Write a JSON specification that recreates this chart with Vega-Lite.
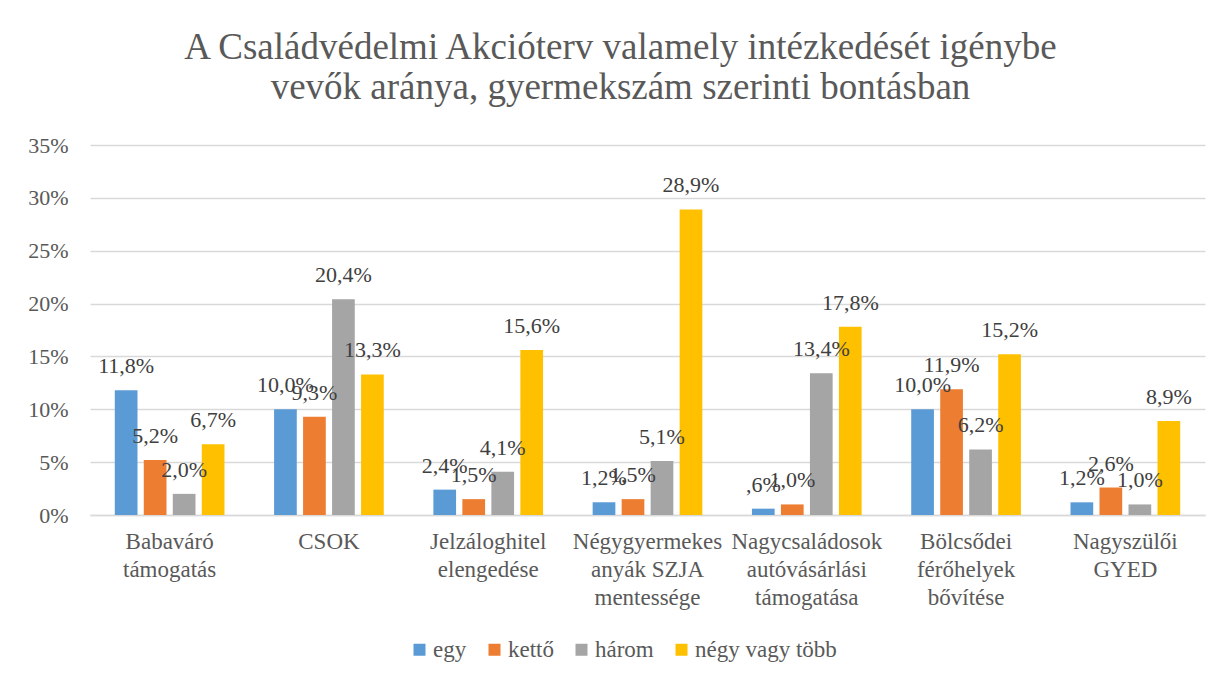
{
  "$schema": "https://vega.github.io/schema/vega-lite/v6.json",
  "width": 1115,
  "height": 370,
  "autosize": {"type": "none"},
  "padding": {"left": 90, "top": 145, "right": 26, "bottom": 166},
  "background": "white",
  "title": {
    "text": ["A Családvédelmi Akcióterv valamely intézkedését igénybe", "vevők aránya, gyermekszám szerinti bontásban"],
    "font": "Liberation Serif",
    "fontSize": 37,
    "fontWeight": "normal",
    "color": "#595959",
    "lineHeight": 40,
    "anchor": "middle",
    "frame": "group",
    "dx": -27,
    "offset": 27
  },
  "data": {
    "values": [
      {"kategoria": "Babaváró támogatás", "gyermekszam": "egy", "ertek": 11.8},
      {"kategoria": "Babaváró támogatás", "gyermekszam": "kettő", "ertek": 5.2},
      {"kategoria": "Babaváró támogatás", "gyermekszam": "három", "ertek": 2.0},
      {"kategoria": "Babaváró támogatás", "gyermekszam": "négy vagy több", "ertek": 6.7},
      {"kategoria": "CSOK", "gyermekszam": "egy", "ertek": 10.0},
      {"kategoria": "CSOK", "gyermekszam": "kettő", "ertek": 9.3},
      {"kategoria": "CSOK", "gyermekszam": "három", "ertek": 20.4},
      {"kategoria": "CSOK", "gyermekszam": "négy vagy több", "ertek": 13.3},
      {"kategoria": "Jelzáloghitel elengedése", "gyermekszam": "egy", "ertek": 2.4},
      {"kategoria": "Jelzáloghitel elengedése", "gyermekszam": "kettő", "ertek": 1.5},
      {"kategoria": "Jelzáloghitel elengedése", "gyermekszam": "három", "ertek": 4.1},
      {"kategoria": "Jelzáloghitel elengedése", "gyermekszam": "négy vagy több", "ertek": 15.6},
      {"kategoria": "Négygyermekes anyák SZJA mentessége", "gyermekszam": "egy", "ertek": 1.2},
      {"kategoria": "Négygyermekes anyák SZJA mentessége", "gyermekszam": "kettő", "ertek": 1.5},
      {"kategoria": "Négygyermekes anyák SZJA mentessége", "gyermekszam": "három", "ertek": 5.1},
      {"kategoria": "Négygyermekes anyák SZJA mentessége", "gyermekszam": "négy vagy több", "ertek": 28.9},
      {"kategoria": "Nagycsaládosok autóvásárlási támogatása", "gyermekszam": "egy", "ertek": 0.6},
      {"kategoria": "Nagycsaládosok autóvásárlási támogatása", "gyermekszam": "kettő", "ertek": 1.0},
      {"kategoria": "Nagycsaládosok autóvásárlási támogatása", "gyermekszam": "három", "ertek": 13.4},
      {"kategoria": "Nagycsaládosok autóvásárlási támogatása", "gyermekszam": "négy vagy több", "ertek": 17.8},
      {"kategoria": "Bölcsődei férőhelyek bővítése", "gyermekszam": "egy", "ertek": 10.0},
      {"kategoria": "Bölcsődei férőhelyek bővítése", "gyermekszam": "kettő", "ertek": 11.9},
      {"kategoria": "Bölcsődei férőhelyek bővítése", "gyermekszam": "három", "ertek": 6.2},
      {"kategoria": "Bölcsődei férőhelyek bővítése", "gyermekszam": "négy vagy több", "ertek": 15.2},
      {"kategoria": "Nagyszülői GYED", "gyermekszam": "egy", "ertek": 1.2},
      {"kategoria": "Nagyszülői GYED", "gyermekszam": "kettő", "ertek": 2.6},
      {"kategoria": "Nagyszülői GYED", "gyermekszam": "három", "ertek": 1.0},
      {"kategoria": "Nagyszülői GYED", "gyermekszam": "négy vagy több", "ertek": 8.9}
    ]
  },
  "transform": [
    {"calculate": "(datum.ertek < 1 ? replace(format(datum.ertek, '.1f'), '0.', ',') : replace(format(datum.ertek, '.1f'), '.', ',')) + '%'", "as": "felirat"}
  ],
  "encoding": {
    "x": {
      "field": "kategoria",
      "type": "nominal",
      "sort": null,
      "scale": {"paddingInner": 0.272, "paddingOuter": 0.136},
      "axis": {
        "title": null,
        "labelAngle": 0,
        "labelExpr": "datum.label == 'Négygyermekes anyák SZJA mentessége' ? ['Négygyermekes', 'anyák SZJA', 'mentessége'] : split(datum.label, ' ')",
        "labelFont": "Liberation Serif",
        "labelFontSize": 23,
        "labelColor": "#595959",
        "labelLineHeight": 28,
        "labelPadding": 15,
        "labelLimit": 0,
        "ticks": false,
        "domainColor": "#D9D9D9",
        "domainWidth": 1.5
      }
    },
    "xOffset": {
      "field": "gyermekszam",
      "type": "nominal",
      "sort": ["egy", "kettő", "három", "négy vagy több"],
      "scale": {"paddingInner": 0.217, "paddingOuter": 0.108}
    },
    "y": {
      "field": "ertek",
      "type": "quantitative",
      "scale": {"domain": [0, 35], "nice": false},
      "axis": {
        "title": null,
        "values": [0, 5, 10, 15, 20, 25, 30, 35],
        "labelExpr": "datum.value + '%'",
        "labelFont": "Liberation Serif",
        "labelFontSize": 22,
        "labelColor": "#595959",
        "labelPadding": 22,
        "ticks": false,
        "domain": false,
        "gridColor": "#D9D9D9",
        "gridWidth": 1.5
      }
    }
  },
  "layer": [
    {
      "mark": {"type": "bar"},
      "encoding": {
        "color": {
          "field": "gyermekszam",
          "type": "nominal",
          "scale": {
            "domain": ["egy", "kettő", "három", "négy vagy több"],
            "range": ["#5B9BD5", "#ED7D31", "#A5A5A5", "#FFC000"]
          },
          "legend": {
            "title": null,
            "orient": "none",
            "direction": "horizontal",
            "legendX": 318,
            "legendY": 493,
            "symbolType": "square",
            "symbolSize": 144,
            "symbolStrokeWidth": 0,
            "labelFont": "Liberation Serif",
            "labelFontSize": 23,
            "labelColor": "#595959",
            "labelOffset": 2,
            "columnPadding": 16
          }
        }
      }
    },
    {
      "mark": {
        "type": "text",
        "dy": -17,
        "baseline": "alphabetic",
        "font": "Liberation Serif",
        "fontSize": 22,
        "color": "#404040"
      },
      "encoding": {"text": {"field": "felirat", "type": "nominal"}}
    }
  ],
  "config": {"view": {"stroke": null}}
}
